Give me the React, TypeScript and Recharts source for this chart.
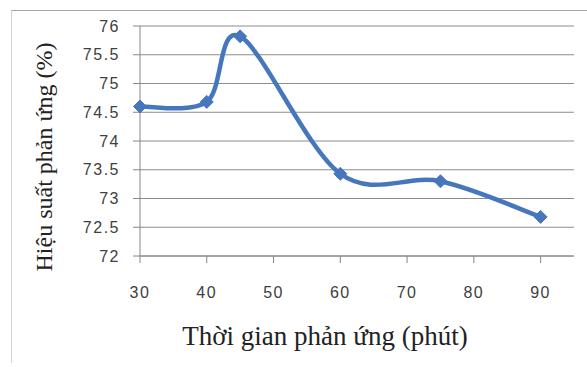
import React from 'react';
import { LineChart, Line, XAxis, YAxis, CartesianGrid } from 'recharts';

// reaction time (min) vs reaction yield (%)
const times = [30, 40, 45, 60, 75, 90];
const yields = [74.6, 74.68, 75.82, 73.43, 73.3, 72.68];
const xTicks = [30, 40, 50, 60, 70, 80, 90];
const yTicks = [72, 72.5, 73, 73.5, 74, 74.5, 75, 75.5, 76];

const data = times.map((t, i) => ({ t, y: yields[i] }));

// Excel-style smoothed line (Catmull-Rom through the points)
const excelCurve = (ctx: any) => {
  let pts: [number, number][] = [];
  return {
    areaStart() {},
    areaEnd() {},
    lineStart() {
      pts = [];
    },
    point(x: number, y: number) {
      pts.push([+x, +y]);
    },
    lineEnd() {
      if (!pts.length) return;
      ctx.moveTo(pts[0][0], pts[0][1]);
      for (let i = 0; i < pts.length - 1; i++) {
        const p0 = pts[Math.max(i - 1, 0)];
        const p1 = pts[i];
        const p2 = pts[i + 1];
        const p3 = pts[Math.min(i + 2, pts.length - 1)];
        ctx.bezierCurveTo(
          p1[0] + (p2[0] - p0[0]) / 6,
          p1[1] + (p2[1] - p0[1]) / 6,
          p2[0] - (p3[0] - p1[0]) / 6,
          p2[1] - (p3[1] - p1[1]) / 6,
          p2[0],
          p2[1]
        );
      }
    },
  };
};

const Diamond = (props: any) => {
  const { cx, cy } = props;
  if (cx == null || cy == null) return null;
  const r = 6.5;
  return (
    <path
      d={`M${cx},${cy - r}L${cx + r},${cy}L${cx},${cy + r}L${cx - r},${cy}Z`}
      fill="#4677bd"
      stroke="#4677bd"
      strokeWidth={1}
    />
  );
};

const serif = '"Liberation Serif", "DejaVu Serif", serif';
const sans = '"Liberation Sans", Arial, sans-serif';

export default function App() {
  return (
    <div style={{ position: 'absolute', left: 0, top: 0, width: 587, height: 367, overflow: 'hidden', background: '#fff' }}>
      <div
        style={{
          position: 'absolute',
          left: 11,
          top: 10,
          width: 620,
          height: 352,
          borderTop: '1px solid #a8a8a8',
          borderLeft: '1px solid #d4d4d4',
        }}
      />
      <LineChart width={587} height={367} data={data} margin={{ top: 26, right: 13, left: 0, bottom: 0 }}>
        <CartesianGrid vertical={false} stroke="#8c8c8c" strokeWidth={1} />
        <XAxis
          dataKey="t"
          type="number"
          domain={[30, 95]}
          ticks={xTicks}
          height={111}
          stroke="#868686"
          tickSize={7}
          tickMargin={24}
          tick={{ fill: '#404040', fontSize: 16, fontFamily: sans, letterSpacing: 1.5 }}
          label={{
            content: () => (
              <text x={325} y={345} textAnchor="middle" fontFamily={serif} fontSize={27} fill="#222">
                Thời gian phản ứng (phút)
              </text>
            ),
          }}
        />
        <YAxis
          type="number"
          domain={[72, 76]}
          ticks={yTicks}
          width={140}
          stroke="#868686"
          tickSize={7}
          tickMargin={13}
          interval={0}
          tick={{ fill: '#404040', fontSize: 16, fontFamily: sans, letterSpacing: 1.5 }}
          label={{
            content: () => (
              <text
                x={52}
                y={157}
                transform="rotate(-90 52 157)"
                textAnchor="middle"
                fontFamily={serif}
                fontSize={24}
                fill="#222"
              >
                Hiệu suất phản ứng (%)
              </text>
            ),
          }}
        />
        <Line
          dataKey="y"
          type={excelCurve as any}
          stroke="#4677bd"
          strokeWidth={4.5}
          dot={<Diamond />}
          activeDot={false}
          isAnimationActive={false}
        />
      </LineChart>
    </div>
  );
}
